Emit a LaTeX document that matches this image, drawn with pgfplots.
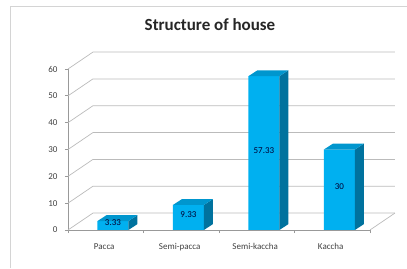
\documentclass[border=0pt]{standalone}
\usepackage{pgfplots}
\pgfplotsset{compat=1.18}
\usepackage{pgfplotstable}
\usepackage{fontspec}
\setmainfont{Carlito}
\definecolor{barfront}{HTML}{00B0F0}
\definecolor{barside}{HTML}{00729E}
\definecolor{bartop}{HTML}{0096CE}
\definecolor{gridc}{HTML}{BBBBBB}
\definecolor{axisc}{HTML}{999999}
\definecolor{labc}{HTML}{404040}
\definecolor{framec}{HTML}{D4D4D4}

\pgfplotstableread{
x     y      lab
0.595 3.33   3.33
1.595 9.33   9.33
2.595 57.33  57.33
3.595 30     30
}\housedata

\begin{document}
\begin{tikzpicture}[x=1pt,y=1pt]
\useasboundingbox (0,0) rectangle (407,268);
\draw[framec, line width=1.6pt] (10.5,0) -- (10.5,261.5) -- (407,261.5);
\node[font=\fontsize{17}{19}\selectfont\bfseries, text=black!85] at (210,243) {Structure of house};
\begin{axis}[
  at={(68pt,38pt)}, anchor=south west,
  scale only axis, width=302pt, height=161pt,
  xmin=0, xmax=4, ymin=0, ymax=60,
  clip=false,
  axis x line*=bottom, axis y line*=left,
  axis line style={draw=axisc, line width=0.7pt, -},
  ytick={0,10,...,60},
  y tick style={draw=axisc, line width=0.7pt},
  tick align=outside, major tick length=3pt,
  xtick={0.48,1.48,2.48,3.48},
  xticklabels={Pacca,Semi-pacca,Semi-kaccha,Kaccha},
  x tick style={draw=none},
  extra x ticks={0,1,2,3,4},
  extra x tick labels={},
  extra x tick style={x tick style={draw=axisc, line width=0.7pt}, major tick length=3pt},
  ticklabel style={font=\fontsize{9}{10}\selectfont, text=labc},
  /pgf/number format/assume math mode=true,
  xticklabel style={yshift=-7pt},
  yticklabel style={xshift=-4pt},
]
% back wall and side gridlines
\pgfplotsinvokeforeach{0,10,20,30,40,50,60}{
  \addplot[gridc, line width=0.7pt, mark=none] coordinates {(0,#1) (0.33,#1+6.3) (4.33,#1+6.3)};
}
\addplot[gridc, line width=0.7pt, mark=none] coordinates {(4,0) (4.33,6.3)};
% bars: front faces
\addplot[ybar, bar width=0.41, fill=barfront, draw=none] table[x=x,y=y] {\housedata};
% side faces
\addplot[fill=barside, draw=none] coordinates {(0.80,0) (0.92,2.2) (0.92,5.53) (0.80,3.33)} -- cycle;
\addplot[fill=barside, draw=none] coordinates {(1.80,0) (1.92,2.2) (1.92,11.53) (1.80,9.33)} -- cycle;
\addplot[fill=barside, draw=none] coordinates {(2.80,0) (2.92,2.2) (2.92,59.53) (2.80,57.33)} -- cycle;
\addplot[fill=barside, draw=none] coordinates {(3.80,0) (3.92,2.2) (3.92,32.2) (3.80,30)} -- cycle;
% top faces
\addplot[fill=bartop, draw=none] coordinates {(0.39,3.33) (0.51,5.53) (0.92,5.53) (0.80,3.33)} -- cycle;
\addplot[fill=bartop, draw=none] coordinates {(1.39,9.33) (1.51,11.53) (1.92,11.53) (1.80,9.33)} -- cycle;
\addplot[fill=bartop, draw=none] coordinates {(2.39,57.33) (2.51,59.53) (2.92,59.53) (2.80,57.33)} -- cycle;
\addplot[fill=bartop, draw=none] coordinates {(3.39,30) (3.51,32.2) (3.92,32.2) (3.80,30)} -- cycle;
% value labels
\addplot[draw=none, mark=none, nodes near coords, point meta=explicit symbolic,
  every node near coord/.append style={anchor=center, font=\fontsize{9}{10}\selectfont, text=black!80!blue}]
  table[x=x, y expr=\thisrow{y}/2+1, meta=lab] {\housedata};
\end{axis}
\end{tikzpicture}
\end{document}
